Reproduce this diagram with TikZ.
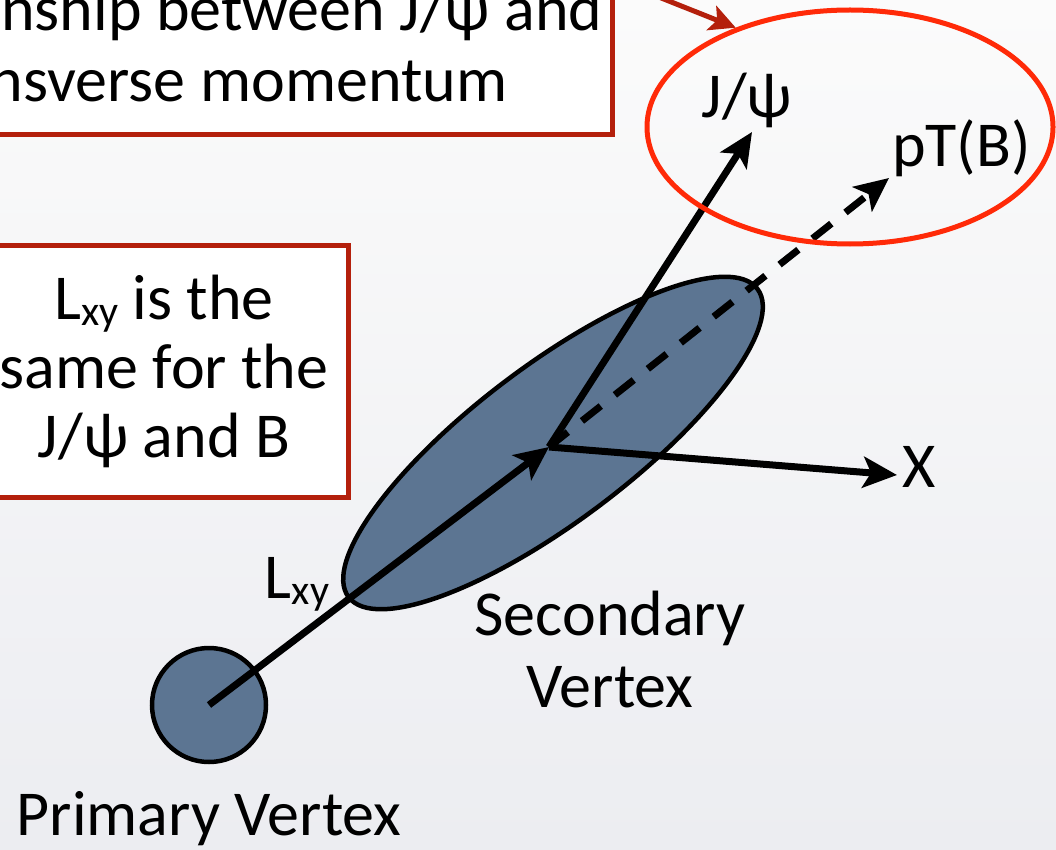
\documentclass[tikz,border=0pt]{standalone}
\usepackage{fontspec}
\setmainfont{Carlito}
\usetikzlibrary{arrows.meta,shapes.geometric}
\definecolor{svblue}{RGB}{92,117,146}
\definecolor{boxred}{RGB}{180,32,12}
\definecolor{ringred}{RGB}{255,42,8}
\definecolor{bgtop}{RGB}{251,251,251}
\definecolor{bgbot}{RGB}{236,237,241}
\newcommand\slidefont{\fontsize{64}{69}\selectfont}
\newcommand\Lxy{L\raisebox{-0.1em}{\fontsize{42}{42}\selectfont xy}}
\tikzset{
  lbl/.style     = {font=\slidefont, inner sep=2pt},
  notebox/.style = {draw=boxred, line width=5pt, fill=white, align=center,
                    font=\slidefont},
  vtx/.style     = {draw=black, line width=4.5pt, fill=svblue, inner sep=0pt},
  trk/.style     = {line width=7pt, -{Stealth[length=34pt,width=31pt,inset=8pt]}},
  faketrk/.style = {trk, dash pattern=on 24pt off 18pt},
  ring/.style    = {ellipse, draw=ringred, line width=5pt, inner sep=0pt},
  callout/.style = {draw=boxred, line width=5pt,
                    -{Stealth[length=26pt,width=26pt,inset=6pt]}},
}

\begin{document}
\begin{tikzpicture}[x=1pt, y=-1pt]
  \useasboundingbox (0,0) rectangle (1056,850);
  \clip (0,0) rectangle (1056,850);
  \shade[top color=bgtop, bottom color=bgbot] (0,0) rectangle (1056,850);

  % the two notes on the left
  \node[notebox, minimum width=800pt, minimum height=181pt,
        font=\fontsize{64}{71}\selectfont] (relbox) at (212,44)
       {Relationship between J/ψ and\\transverse momentum};
  \node[notebox, minimum width=368pt, minimum height=252pt] (lxybox) at (164,371)
       {\Lxy{} is the\\same for the\\J/ψ and B};

  % vertices
  \node[vtx, circle, minimum size=114pt] (pv) at (209,705) {};
  \node[vtx, ellipse, minimum width=512pt, minimum height=156pt, rotate=37] (svblob) at (553,443) {};
  \coordinate (sv) at (549,447);

  \node[lbl] (jlab) at (747,100) {J/ψ};
  \node[lbl, anchor=base west] (blab) at (890,167) {pT(B)};
  \node[lbl, anchor=west] (xlab) at (900,467) {X};
  \node[lbl, anchor=base] (lxylab) at (297,598) {\Lxy};
  \node[lbl, align=center, font=\fontsize{64}{72}\selectfont] (svlab) at (610,650)
       {Secondary\\Vertex};
  \node[lbl, anchor=base] (pvlab) at (209,835) {Primary Vertex};

  \coordinate (jtip) at (752,132);
  \coordinate (btip) at (889,178);
  \coordinate (xtip) at (897,475);
  \coordinate (callfrom) at (596,-28);

  \draw[trk] (pv.center) -- (sv);
  \draw[trk] (sv) -- (jtip);
  \draw[faketrk] (sv) -- (btip);
  \draw[trk] (sv) -- (xtip);

  \node[ring, minimum width=406pt, minimum height=234pt] (sel) at (850,127) {};
  \draw[callout] (callfrom) -- (sel.139);
\end{tikzpicture}
\end{document}
